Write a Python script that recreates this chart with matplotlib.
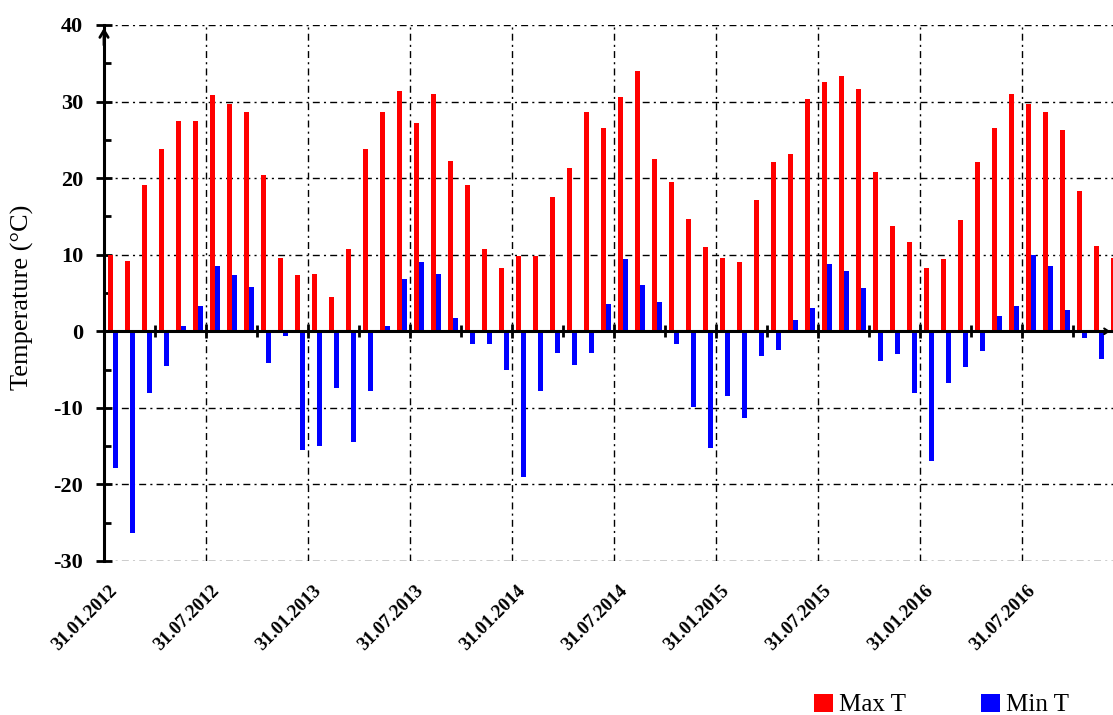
import matplotlib.pyplot as plt
import numpy as np
from matplotlib.ticker import MultipleLocator

plt.rcParams['font.family'] = ['Liberation Serif', 'DejaVu Serif']
plt.rcParams['axes.unicode_minus'] = False

# monthly values, Jan 2012 .. Dec 2016
max_t = [9.9, 9.2, 19.1, 23.8, 27.4, 27.4, 30.9, 29.7, 28.6, 20.4, 9.6, 7.3,
         7.5, 4.5, 10.7, 23.8, 28.7, 31.4, 27.2, 31.0, 22.3, 19.1, 10.7, 8.3,
         9.8, 9.8, 17.6, 21.3, 28.7, 26.6, 30.6, 34.0, 22.5, 19.5, 14.7, 11.0,
         9.6, 9.0, 17.2, 22.1, 23.2, 30.4, 32.5, 33.4, 31.7, 20.8, 13.8, 11.7,
         8.3, 9.4, 14.5, 22.1, 26.5, 31.0, 29.7, 28.6, 26.3, 18.3, 11.1, 9.6]
min_t = [-17.9, -26.3, -8.1, -4.5, 0.7, 3.3, 8.5, 7.3, 5.8, -4.2, -0.6, -15.5,
         -15.0, -7.4, -14.4, -7.8, 0.7, 6.8, 9.0, 7.5, 1.7, -1.7, -1.7, -5.1,
         -19.0, -7.8, -2.9, -4.4, -2.9, 3.6, 9.4, 6.0, 3.8, -1.7, -9.9, -15.3,
         -8.5, -11.3, -3.2, -2.5, 1.5, 3.0, 8.8, 7.9, 5.6, -3.9, -3.0, -8.1,
         -17.0, -6.8, -4.7, -2.6, 2.0, 3.3, 10.0, 8.5, 2.8, -0.9, -3.6, -6.0]
date_labels = ['31.01.2012', '31.07.2012', '31.01.2013', '31.07.2013', '31.01.2014',
               '31.07.2014', '31.01.2015', '31.07.2015', '31.01.2016', '31.07.2016']
label_pos = [0, 6, 12, 18, 24, 30, 36, 42, 48, 54]

fig = plt.figure(figsize=(11.13, 7.15), dpi=100)
ax = fig.add_axes([104/1113, 1-561/715, 1-104/1113, (561-25)/715])
ax.set_xlim(0, 59.35)
ax.set_ylim(-30, 40)

x = np.arange(len(max_t))
ax.bar(x+0.37, max_t, 0.3, color='#ff0000', label='Max T', zorder=3)
ax.bar(x+0.67, min_t, 0.3, color='#0000ff', label='Min T', zorder=3)

ax.spines['top'].set_visible(False)
ax.spines['right'].set_visible(False)
ax.spines['bottom'].set_position(('data', 0))
ax.spines['bottom'].set_linewidth(2.2)
ax.spines['left'].set_linewidth(2.2)
ax.spines['bottom'].set_zorder(4)

ax.set_xticks(label_pos)
ax.set_xticks([p+3 for p in label_pos], minor=True)
ax.yaxis.set_major_locator(MultipleLocator(10))
ax.yaxis.set_minor_locator(MultipleLocator(5))
ax.tick_params(axis='x', which='major', direction='inout', length=10, width=2, labelbottom=False)
ax.tick_params(axis='x', which='minor', direction='inout', length=8, width=2)
ax.tick_params(axis='y', which='major', direction='inout', length=12, width=2, pad=9, labelsize=16)
ax.tick_params(axis='y', which='minor', direction='in', length=5, width=2)
for t in ax.get_yticklabels():
    t.set_fontweight('bold')

ax.grid(which='major', linestyle=(0, (5, 3, 1.5, 3)), color='black', lw=1)
ax.set_axisbelow(True)

for p, lab in zip(label_pos, date_labels):
    ax.text(p+0.65, -33.6, lab, rotation=45, ha='right', va='center', rotation_mode='anchor',
            fontsize=13.5, fontweight='bold', clip_on=False)

# arrow heads on the axes
ax.annotate('', xy=(0, 40), xytext=(0, 37), annotation_clip=False,
            arrowprops=dict(arrowstyle='->,head_length=0.5,head_width=0.3', lw=2, color='black'))
ax.annotate('', xy=(59.35, 0), xytext=(58.5, 0), annotation_clip=False,
            arrowprops=dict(arrowstyle='->,head_length=0.3,head_width=0.2', lw=1.5, color='black'))

fig.text(22/1113, 1-297/715, 'Temperature (°C)', rotation=90, ha='center', va='center', fontsize=19)

fig.legend(loc='center', bbox_to_anchor=(0.846, 0.014), ncol=2, frameon=False, fontsize=18,
           handlelength=0.75, handleheight=0.75, handletextpad=0.25, columnspacing=3.0, borderpad=0)

fig.savefig('out.png', dpi=100)
